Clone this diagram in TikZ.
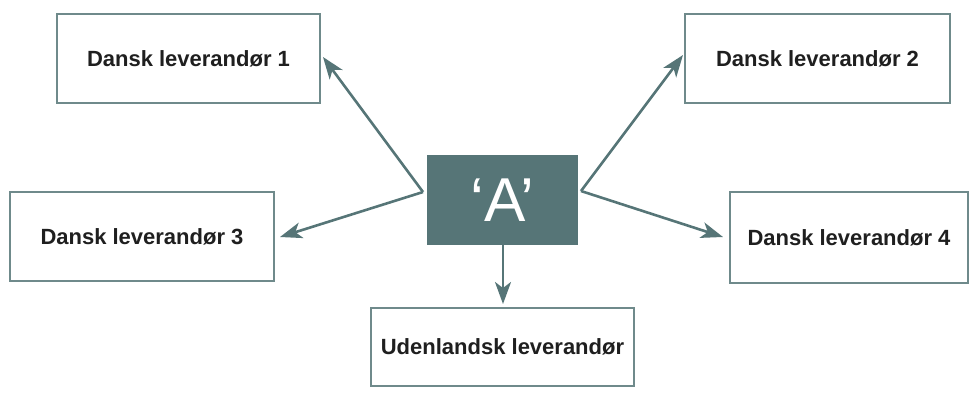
\documentclass[tikz,border=0pt]{standalone}
\usepackage{fontspec}
\setmainfont{Liberation Sans}
\usetikzlibrary{arrows.meta}
\definecolor{teal}{HTML}{567577}
\tikzset{
  supbox/.style={draw=teal!85, line width=1.1pt, fill=white, inner sep=0pt,
    font=\fontsize{22}{26}\selectfont\bfseries, text=black!88},
  conn/.style={draw=teal, line width=2.6pt,
    -{Stealth[length=22pt,width=16pt,inset=6pt]}},
}
\begin{document}
\begin{tikzpicture}[x=1pt,y=-1pt]
\useasboundingbox (0,0) rectangle (980,392);
\node[supbox, minimum width=263pt, minimum height=89pt] (b1) at (188.5,58.5) {Dansk leverandør 1};
\node[supbox, minimum width=265pt, minimum height=89pt] (b2) at (817.5,58.5) {Dansk leverandør 2};
\node[supbox, minimum width=264pt, minimum height=89pt] (b3) at (142,236.5) {Dansk leverandør 3};
\node[supbox, minimum width=238pt, minimum height=91pt] (b4) at (849,237.5) {Dansk leverandør 4};
\node[supbox, minimum width=263pt, minimum height=78pt] (b5) at (502.5,347) {Udenlandsk leverandør};
\node[fill=teal, minimum width=151pt, minimum height=90pt, inner sep=0pt,
  text=white, font=\fontsize{62}{62}\selectfont] (a) at (502.5,200) {‘A’};
\coordinate (fl) at (423,192);
\coordinate (fr) at (581,191);
\coordinate (t1) at (323,57);
\coordinate (t3) at (280,237);
\coordinate (t2) at (683,55);
\coordinate (t4) at (723,237);
\coordinate (t5) at (503,304);
\draw[conn] (fl) -- (t1);
\draw[conn] (fl) -- (t3);
\draw[conn] (fr) -- (t2);
\draw[conn] (fr) -- (t4);
\draw[conn] (a.south) ++(0.5,0) -- (t5);
\end{tikzpicture}
\end{document}
